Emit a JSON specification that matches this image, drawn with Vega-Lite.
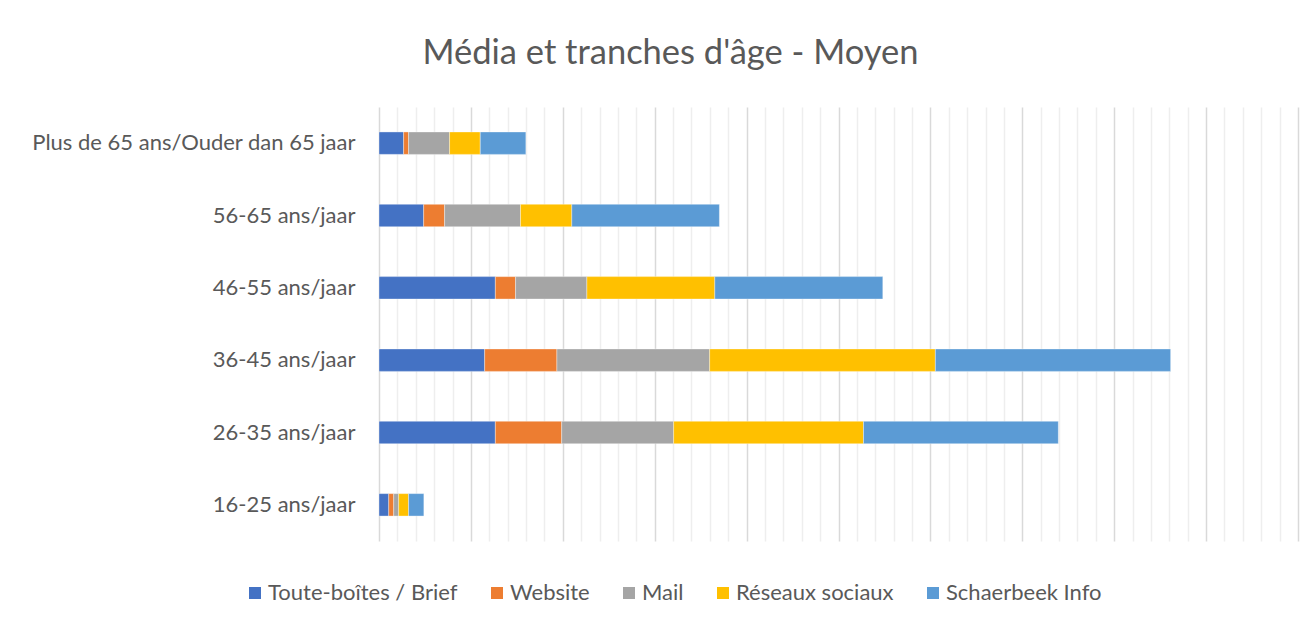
{
  "$schema": "https://vega.github.io/schema/vega-lite/v6.json",
  "autosize": {"type": "none"},
  "width": 919,
  "height": 434,
  "padding": {"left": 379, "top": 107, "right": 11, "bottom": 86},
  "background": "white",
  "title": {
    "text": "Média et tranches d'âge - Moyen",
    "anchor": "middle",
    "dx": -168,
    "offset": 36,
    "font": "Lato",
    "fontSize": 34.5,
    "fontWeight": "normal",
    "color": "#595959"
  },
  "data": {
    "values": [
      {"age": "16-25 ans/jaar", "media": "Toute-boîtes / Brief", "value": 0.53},
      {"age": "16-25 ans/jaar", "media": "Website", "value": 0.27},
      {"age": "16-25 ans/jaar", "media": "Mail", "value": 0.27},
      {"age": "16-25 ans/jaar", "media": "Réseaux sociaux", "value": 0.54},
      {"age": "16-25 ans/jaar", "media": "Schaerbeek Info", "value": 0.83},
      {"age": "26-35 ans/jaar", "media": "Toute-boîtes / Brief", "value": 6.33},
      {"age": "26-35 ans/jaar", "media": "Website", "value": 3.61},
      {"age": "26-35 ans/jaar", "media": "Mail", "value": 6.09},
      {"age": "26-35 ans/jaar", "media": "Réseaux sociaux", "value": 10.33},
      {"age": "26-35 ans/jaar", "media": "Schaerbeek Info", "value": 10.6},
      {"age": "36-45 ans/jaar", "media": "Toute-boîtes / Brief", "value": 5.75},
      {"age": "36-45 ans/jaar", "media": "Website", "value": 3.93},
      {"age": "36-45 ans/jaar", "media": "Mail", "value": 8.31},
      {"age": "36-45 ans/jaar", "media": "Réseaux sociaux", "value": 12.28},
      {"age": "36-45 ans/jaar", "media": "Schaerbeek Info", "value": 12.8},
      {"age": "46-55 ans/jaar", "media": "Toute-boîtes / Brief", "value": 6.33},
      {"age": "46-55 ans/jaar", "media": "Website", "value": 1.1},
      {"age": "46-55 ans/jaar", "media": "Mail", "value": 3.88},
      {"age": "46-55 ans/jaar", "media": "Réseaux sociaux", "value": 6.96},
      {"age": "46-55 ans/jaar", "media": "Schaerbeek Info", "value": 9.14},
      {"age": "56-65 ans/jaar", "media": "Toute-boîtes / Brief", "value": 2.43},
      {"age": "56-65 ans/jaar", "media": "Website", "value": 1.14},
      {"age": "56-65 ans/jaar", "media": "Mail", "value": 4.13},
      {"age": "56-65 ans/jaar", "media": "Réseaux sociaux", "value": 2.79},
      {"age": "56-65 ans/jaar", "media": "Schaerbeek Info", "value": 8.03},
      {"age": "Plus de 65 ans/Ouder dan 65 jaar", "media": "Toute-boîtes / Brief", "value": 1.34},
      {"age": "Plus de 65 ans/Ouder dan 65 jaar", "media": "Website", "value": 0.27},
      {"age": "Plus de 65 ans/Ouder dan 65 jaar", "media": "Mail", "value": 2.23},
      {"age": "Plus de 65 ans/Ouder dan 65 jaar", "media": "Réseaux sociaux", "value": 1.67},
      {"age": "Plus de 65 ans/Ouder dan 65 jaar", "media": "Schaerbeek Info", "value": 2.48}
    ]
  },
  "transform": [
    {"calculate": "indexof(['Toute-boîtes / Brief', 'Website', 'Mail', 'Réseaux sociaux', 'Schaerbeek Info'], datum.media)", "as": "media_order"}
  ],
  "mark": {"type": "bar", "stroke": "white", "strokeWidth": 0.6, "strokeOpacity": 0.6},
  "encoding": {
    "y": {
      "field": "age",
      "type": "nominal",
      "sort": ["Plus de 65 ans/Ouder dan 65 jaar", "56-65 ans/jaar", "46-55 ans/jaar", "36-45 ans/jaar", "26-35 ans/jaar", "16-25 ans/jaar"],
      "scale": {"paddingInner": 0.69, "paddingOuter": 0.345},
      "axis": {
        "title": null,
        "ticks": false,
        "domain": false,
        "grid": false,
        "labelPadding": 24,
        "labelFont": "Lato",
        "labelFontSize": 22,
        "labelColor": "#595959",
        "labelLimit": 400
      }
    },
    "x": {
      "field": "value",
      "type": "quantitative",
      "stack": "zero",
      "scale": {"domain": [0, 50], "nice": false},
      "axis": {
        "title": null,
        "labels": false,
        "ticks": false,
        "domain": false,
        "values": [0,1,2,3,4,5,6,7,8,9,10,11,12,13,14,15,16,17,18,19,20,21,22,23,24,25,26,27,28,29,30,31,32,33,34,35,36,37,38,39,40,41,42,43,44,45,46,47,48,49,50],
        "gridColor": {"condition": {"test": "datum.value % 5 === 0", "value": "#d9d9d9"}, "value": "#eeeeee"},
        "gridWidth": 1.5
      }
    },
    "order": {"field": "media_order", "type": "quantitative"},
    "color": {
      "field": "media",
      "type": "nominal",
      "sort": ["Toute-boîtes / Brief", "Website", "Mail", "Réseaux sociaux", "Schaerbeek Info"],
      "scale": {
        "domain": ["Toute-boîtes / Brief", "Website", "Mail", "Réseaux sociaux", "Schaerbeek Info"],
        "range": ["#4472C4", "#ED7D31", "#A5A5A5", "#FFC000", "#5B9BD5"]
      },
      "legend": {
        "title": null,
        "orient": "none",
        "direction": "horizontal",
        "legendX": -135,
        "legendY": 475,
        "symbolType": "square",
        "symbolSize": 144,
        "symbolStrokeWidth": 0,
        "labelFont": "Lato",
        "labelFontSize": 22,
        "labelColor": "#595959",
        "labelOffset": 2,
        "columnPadding": 28,
        "labelLimit": 300
      }
    }
  },
  "config": {
    "view": {"stroke": null}
  }
}
